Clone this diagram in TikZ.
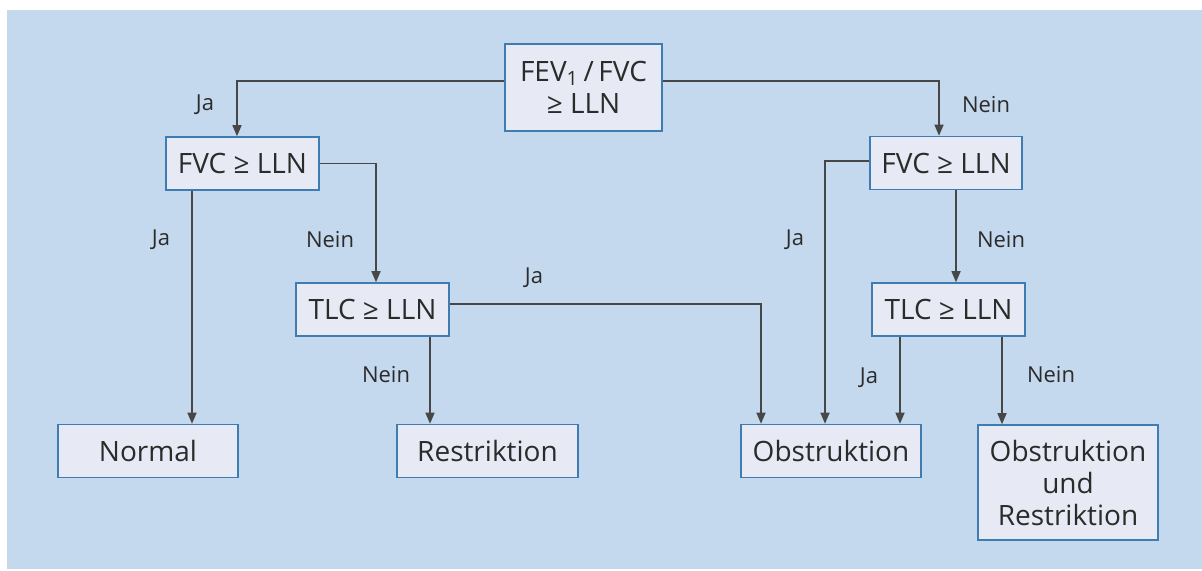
\documentclass[tikz,border=0pt]{standalone}
\usepackage{fontspec}
\setmainfont{Open Sans}
\usetikzlibrary{arrows.meta}
\definecolor{bgblue}{HTML}{C5D9EE}
\definecolor{boxfill}{HTML}{E7EAF4}
\definecolor{boxline}{HTML}{3D7DB3}
\definecolor{txt}{HTML}{2B2B2B}
\definecolor{linegray}{HTML}{474747}
\begin{document}
\begin{tikzpicture}[x=0.5pt, y=-0.5pt,
  box/.style={draw=boxline, fill=boxfill, line width=0.8pt, text=txt,
    font=\fontsize{14}{16}\selectfont, align=center, inner sep=0pt,
    minimum width=#1, minimum height=26.5pt},
  lbl/.style={text=txt, font=\fontsize{11}{13}\selectfont, inner sep=0pt},
  arr/.style={draw=linegray, line width=0.75pt,
    -{Triangle[length=5.5pt, width=4.5pt]}}]
  \useasboundingbox (0,0) rectangle (1202,570);
  \fill[bgblue] (7,10) rectangle (1202,569);
  % boxes
  \node[box=78.5pt, minimum height=43.5pt] (top) at (583.5,87.5)
    {FEV\textsubscript{1}\,/\,FVC\\≥ LLN};
  \node[box=76.5pt] (fvcL) at (242.5,163.5) {FVC ≥ LLN};
  \node[box=76pt] (fvcR) at (946,163) {FVC ≥ LLN};
  \node[box=76.5pt] (tlcL) at (372.5,309.5) {TLC ≥ LLN};
  \node[box=76.5pt] (tlcR) at (948.5,309.5) {TLC ≥ LLN};
  \node[box=90pt] (normal) at (148,451) {Normal};
  \node[box=90.5pt] (restr) at (487.5,451) {Restriktion};
  \node[box=90pt] (obstr) at (831,451) {Obstruktion};
  \node[box=90pt, minimum height=57.5pt] (both) at (1068,482.5)
    {Obstruktion\\und\\Restriktion};
  % connectors
  \draw[arr] ([yshift=3.25pt]top.west) -| ([xshift=-2.75pt]fvcL.north);
  \draw[arr] ([yshift=3.25pt]top.east) -| ([xshift=-3.5pt]fvcR.north);
  \draw[arr] ([xshift=-25.25pt]fvcL.south) -- ([xshift=-25.25pt]fvcL.south |- normal.north);
  \draw[arr] (fvcL.east) -| ([xshift=1.75pt]tlcL.north);
  \draw[arr] ([yshift=2.75pt]tlcL.east) -| ([xshift=-35pt]obstr.north);
  \draw[arr] ([xshift=28.75pt]tlcL.south) -- ([xshift=28.75pt]tlcL.south |- restr.north);
  \draw[arr] ([yshift=1pt]fvcR.west) -| ([xshift=-3pt]obstr.north);
  \draw[arr] ([xshift=5pt]fvcR.south) -- ([xshift=5pt]fvcR.south |- tlcR.north);
  \draw[arr] ([xshift=-24.25pt]tlcR.south) -- ([xshift=-24.25pt]tlcR.south |- obstr.north);
  \draw[arr] ([xshift=26.75pt]tlcR.south) -- ([xshift=26.75pt]tlcR.south |- both.north);
  % labels
  \node[lbl] (ja1) at (205,105) {Ja};
  \node[lbl] (nein1) at (986,105) {Nein};
  \node[lbl] (ja2) at (161,240) {Ja};
  \node[lbl] (nein2) at (330,240) {Nein};
  \node[lbl] (ja3) at (534,278) {Ja};
  \node[lbl] (nein3) at (386,375) {Nein};
  \node[lbl] (ja4) at (795,240) {Ja};
  \node[lbl] (nein4) at (1001,240) {Nein};
  \node[lbl] (ja5) at (869,378) {Ja};
  \node[lbl] (nein5) at (1051,375) {Nein};
\end{tikzpicture}
\end{document}
